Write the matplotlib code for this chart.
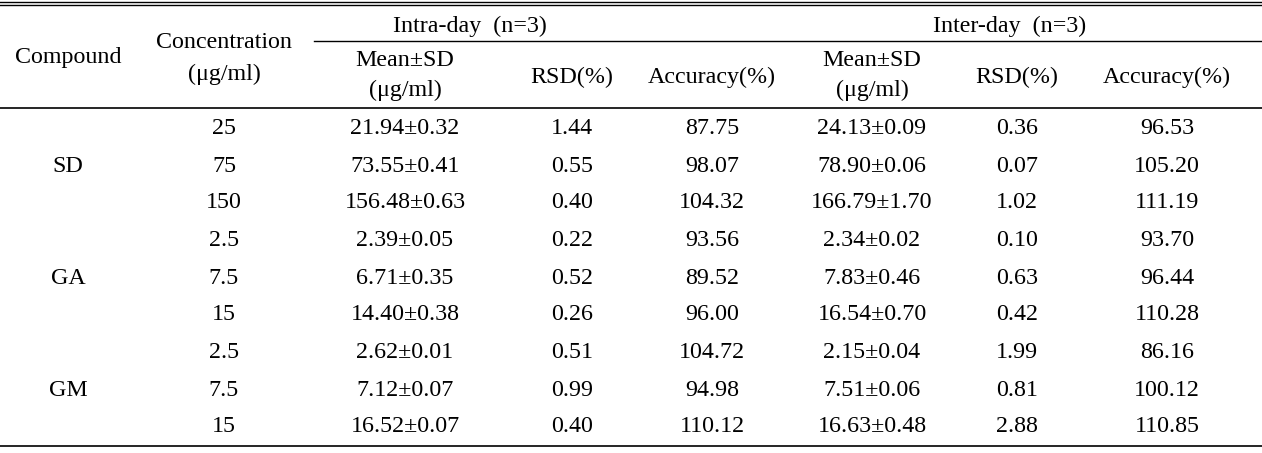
import matplotlib
matplotlib.use("Agg")
import matplotlib.pyplot as plt

plt.rcParams['font.family'] = ['Liberation Serif', 'DejaVu Serif']

compounds = ["SD", "GA", "GM"]
conc = ["25", "75", "150", "2.5", "7.5", "15", "2.5", "7.5", "15"]
intra_mean = ["21.94±0.32", "73.55±0.41", "156.48±0.63", "2.39±0.05", "6.71±0.35",
              "14.40±0.38", "2.62±0.01", "7.12±0.07", "16.52±0.07"]
intra_rsd = ["1.44", "0.55", "0.40", "0.22", "0.52", "0.26", "0.51", "0.99", "0.40"]
intra_acc = ["87.75", "98.07", "104.32", "93.56", "89.52", "96.00", "104.72", "94.98", "110.12"]
inter_mean = ["24.13±0.09", "78.90±0.06", "166.79±1.70", "2.34±0.02", "7.83±0.46",
              "16.54±0.70", "2.15±0.04", "7.51±0.06", "16.63±0.48"]
inter_rsd = ["0.36", "0.07", "1.02", "0.10", "0.63", "0.42", "1.99", "0.81", "2.88"]
inter_acc = ["96.53", "105.20", "111.19", "93.70", "96.44", "110.28", "86.16", "100.12", "110.85"]

W, H = 1262, 453
fig = plt.figure(figsize=(W / 100, H / 100), dpi=100)
ax = fig.add_axes([0, 0, 1, 1])
ax.set_xlim(0, W)
ax.set_ylim(H, 0)
ax.axis('off')

fs = 17.3
dy = 2
col_x = [224, 405, 572, 712, 872, 1017, 1167]
row_y = [127, 164, 201, 238, 276, 313, 350, 388, 425]

# rules
ax.plot([0, W], [1.5, 1.5], color='black', lw=1.0)
ax.plot([0, W], [5, 5], color='black', lw=1.0)
ax.plot([314, W], [41, 41], color='black', lw=1.0)
ax.plot([0, W], [108, 108], color='black', lw=1.2)
ax.plot([0, W], [446, 446], color='black', lw=1.2)

def t(x, y, s):
    ax.text(x, y + dy, s, ha='center', va='center', fontsize=fs)

# header
t(470, 24, "Intra-day  (n=3)")
t(1010, 24, "Inter-day  (n=3)")
t(68, 56, "Compound")
t(224, 41, "Concentration")
t(224, 72, "(μg/ml)")
for x in (col_x[1], col_x[4]):
    t(x, 59, "Mean±SD")
    t(x, 88, "(μg/ml)")
for x in (col_x[2], col_x[5]):
    t(x, 75, "RSD(%)")
for x in (col_x[3], col_x[6]):
    t(x, 75, "Accuracy(%)")

# body
for i, c in enumerate(compounds):
    t(68, row_y[3 * i + 1], c)
cols = [conc, intra_mean, intra_rsd, intra_acc, inter_mean, inter_rsd, inter_acc]
for x, col in zip(col_x, cols):
    for y, s in zip(row_y, col):
        t(x, y, s)

fig.savefig("out.png", dpi=100)
